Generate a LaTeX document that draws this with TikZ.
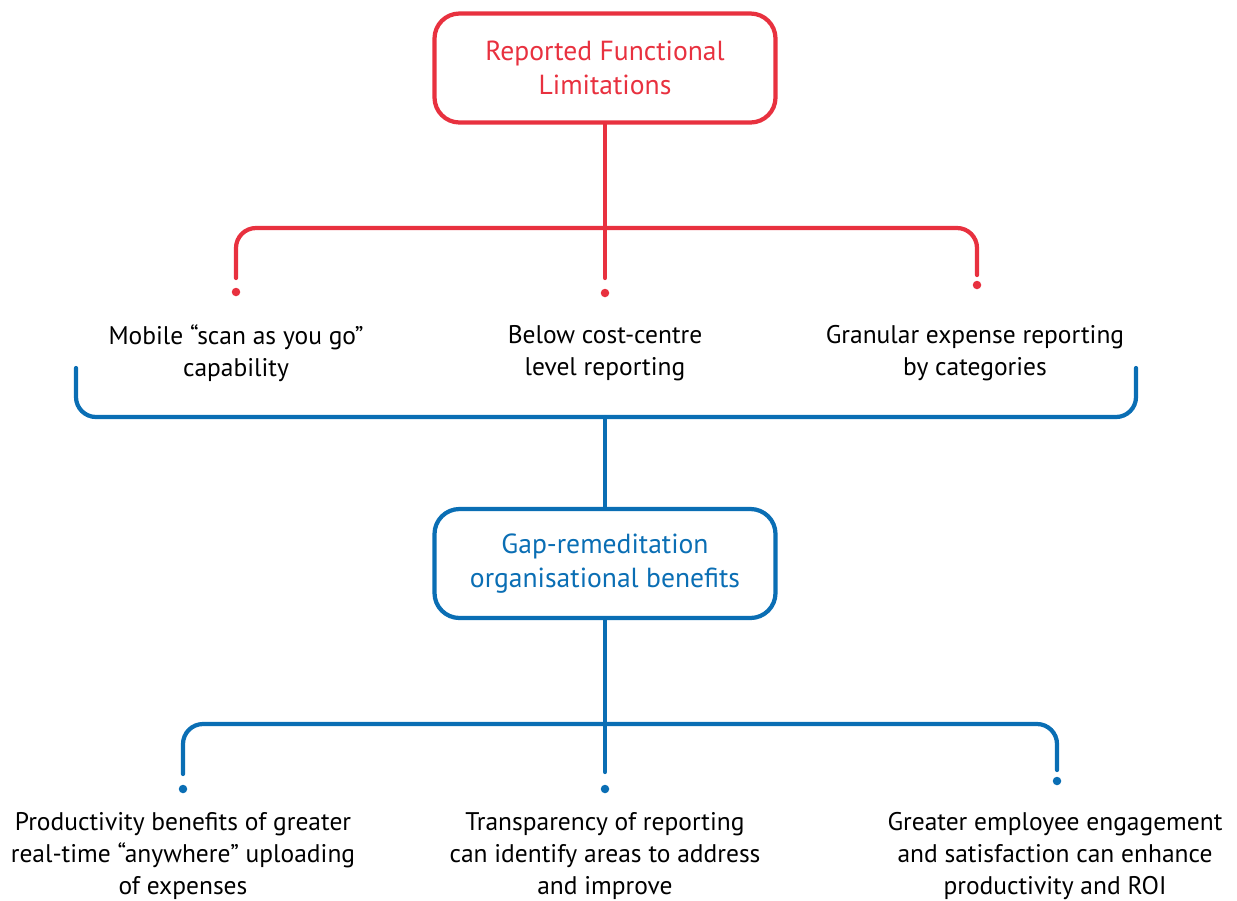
\documentclass[tikz,border=0pt]{standalone}
\usepackage{fontspec}
\setmainfont{PT Sans}
\usepackage{xcolor}
\usetikzlibrary{positioning,calc}
\definecolor{ecred}{HTML}{E8313F}
\definecolor{ecblue}{HTML}{0A6EB4}

\begin{document}
\begin{tikzpicture}[
  headbox/.style={draw, line width=2.4pt, rounded corners=0.5cm, minimum width=6.82cm, minimum height=2.18cm, align=center, font=\fontsize{15.7}{19.3}\selectfont},
  item/.style={align=center, font=\fontsize{14.5}{18.1}\selectfont},
  link/.style={line width=2.4pt, line cap=round, rounded corners=0.4cm},
  tip/.style={radius=0.085cm}
]
  \useasboundingbox (0,0) rectangle (24.74,-18.0);

  % Heads
  \node[headbox, ecred] (limits) at (12.1,-1.36) {Reported Functional\\Limitations};
  \node[headbox, ecblue] (benefits) at (12.1,-11.27) {Gap-remeditation\\organisational benefits};

  % Limitations
  \node[item] (mobile) at (4.72,-7.06) {Mobile “scan as you go”\\capability};
  \node[item] (cost) at (12.1,-7.06) {Below cost-centre\\level reporting};
  \node[item] (granular) at (19.5,-7.06) {Granular expense reporting\\by categories};

  % Benefits
  \node[item] (productivity) at (3.66,-17.12) {Productivity benefits of greater\\real-time “anywhere” uploading\\of expenses};
  \node[item] (transparency) at (12.1,-17.12) {Transparency of reporting\\can identify areas to address\\and improve};
  \node[item] (engagement) at (21.1,-17.12) {Greater employee engagement\\and satisfaction can enhance\\productivity and ROI};

  % Red tree
  \coordinate (rbar) at (12.1,-4.56);
  \coordinate (r1) at (4.72,-5.56);
  \coordinate (r2) at (12.1,-5.56);
  \coordinate (r3) at (19.54,-5.5);
  \draw[link, ecred] (limits.south) -- (r2);
  \draw[link, ecred] (r1) |- (rbar) -| (r3);
  \fill[ecred] (4.72,-5.84) circle[tip];
  \fill[ecred] (12.1,-5.86) circle[tip];
  \fill[ecred] (19.54,-5.7) circle[tip];

  % Blue bracket
  \coordinate (b1) at (1.52,-7.36);
  \coordinate (b2) at (22.72,-7.36);
  \coordinate (bbar) at (12.1,-8.34);
  \draw[link, ecblue] (b1) |- (bbar) -| (b2);
  \draw[link, ecblue] (bbar) -- (benefits.north);

  % Blue tree
  \coordinate (gbar) at (12.1,-14.48);
  \coordinate (g1) at (3.66,-15.48);
  \coordinate (g2) at (12.1,-15.44);
  \coordinate (g3) at (21.14,-15.4);
  \draw[link, ecblue] (benefits.south) -- (g2);
  \draw[link, ecblue] (g1) |- (gbar) -| (g3);
  \fill[ecblue] (3.66,-15.78) circle[tip];
  \fill[ecblue] (12.1,-15.78) circle[tip];
  \fill[ecblue] (21.14,-15.62) circle[tip];
\end{tikzpicture}
\end{document}
